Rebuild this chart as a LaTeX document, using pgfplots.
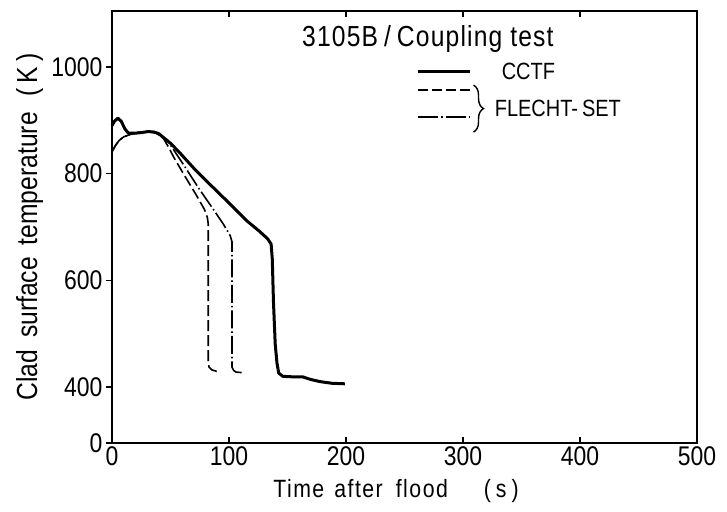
\documentclass[border=0pt]{standalone}
\usepackage{fontspec}
\setmainfont{Liberation Sans}[FakeStretch=0.85]
\usepackage{pgfplots}
\pgfplotsset{compat=1.18}
\usetikzlibrary{decorations.pathreplacing}
\pgfplotstableread{
t T
0 890
2 898
5 904
8 898
11 884
14 876
20 876
25 877
31 879
36 878
40 875
45 866
50 857
58 839
70 810
86 775
100 745
115 712
126 692
133 678
136 668
137 640
138 560
139.5 480
141 445
142.5 426
146 420
155 419
163 419
170 414
178 410
188 407
199 406
}\cctf
\pgfplotstableread{
t T
0 841
3 853
6 862
10 869
15 873
22 877
31 879
38 876
44 866
48 851
53 830
61 800
72 760
79 733
81.5 718
82.3 705
82.3 600
82.3 500
82.3 445
83 437
85.5 432
90 429
}\flechtA
\pgfplotstableread{
t T
0 841
3 853
6 862
10 869
15 873
22 877
31 879
38 876
44 868
48 860
55 837
62 814
74 773
86 735
95 706
101 684
102.6 672
102.6 560
102.6 437
104 431
106 428
111 427
}\flechtB
\begin{document}
\begin{tikzpicture}
\path[use as bounding box] (0,0) rectangle (727pt,511pt);
\begin{axis}[
  at={(112pt,68pt)}, anchor=south west,
  scale only axis, width=585pt, height=432pt,
  xmin=0, xmax=500, ymin=295, ymax=1105,
  axis line style={line width=2pt},
  xtick={0,100,200,300,400,500},
  xticklabels={0,100,200,300,400,500},
  ytick={295,400,600,800,1000},
  yticklabels={0,400,600,800,1000},
  xtick pos=both, ytick pos=left,
  xtick align=inside, ytick align=outside,
  major tick length=6pt,
  tick style={line width=1.3pt, black},
  ticklabel style={font=\fontsize{27}{27}\selectfont},
  xlabel={Time\hspace{10pt}after\hspace{13pt}flood\hspace{36pt}(\hspace{5pt}s\hspace{5pt})},
  xlabel style={at={(axis description cs:0.4855,-0.125)}, anchor=base, font=\fontsize{25}{25}\selectfont\addfontfeature{LetterSpace=6}},
  ylabel={Clad\hspace{12pt}surface\hspace{12pt}temperature\hspace{16pt}(\hspace{5pt}K\hspace{5pt})},
  ylabel style={at={(axis description cs:-0.128,0.5)}, anchor=base, font=\fontsize{29}{29}\selectfont},
  clip=false,
]
\addplot[black, line width=3pt, line join=round] table[x=t,y=T] {\cctf};
\addplot[black, line width=1.6pt, dash pattern=on 11pt off 4pt] table[x=t,y=T] {\flechtA};
\addplot[black, line width=1.6pt, dash pattern=on 18pt off 3pt on 1.5pt off 3pt] table[x=t,y=T] {\flechtB};
% legend / annotation
\node[anchor=base west, font=\fontsize{29}{29}\selectfont\addfontfeature{LetterSpace=4}, inner sep=0pt] at (axis cs:162.4,1039) {3105B\hspace{6pt}/\hspace{6pt}Coupling\hspace{8pt}test};
\draw[line width=3pt] (axis cs:261.5,992.5) -- (axis cs:306,992.5);
\draw[line width=1.6pt, dash pattern=on 10pt off 4pt] (axis cs:261.5,957) -- (axis cs:306,957);
\draw[line width=1.6pt, dash pattern=on 20pt off 3pt on 2pt off 3pt] (axis cs:261.5,906) -- (axis cs:306,906);
\node[anchor=west, font=\fontsize{23.5}{23.5}\selectfont, inner sep=0pt] at (axis cs:333,992) {CCTF};
\draw[line width=1.4pt, decorate, decoration={brace, amplitude=10pt}] (axis cs:309,966) -- (axis cs:309,878);
\node[anchor=west, font=\fontsize{23.5}{23.5}\selectfont, inner sep=0pt] at (axis cs:327,923) {FLECHT-\hspace{4pt}SET};
\end{axis}
\end{tikzpicture}
\end{document}
